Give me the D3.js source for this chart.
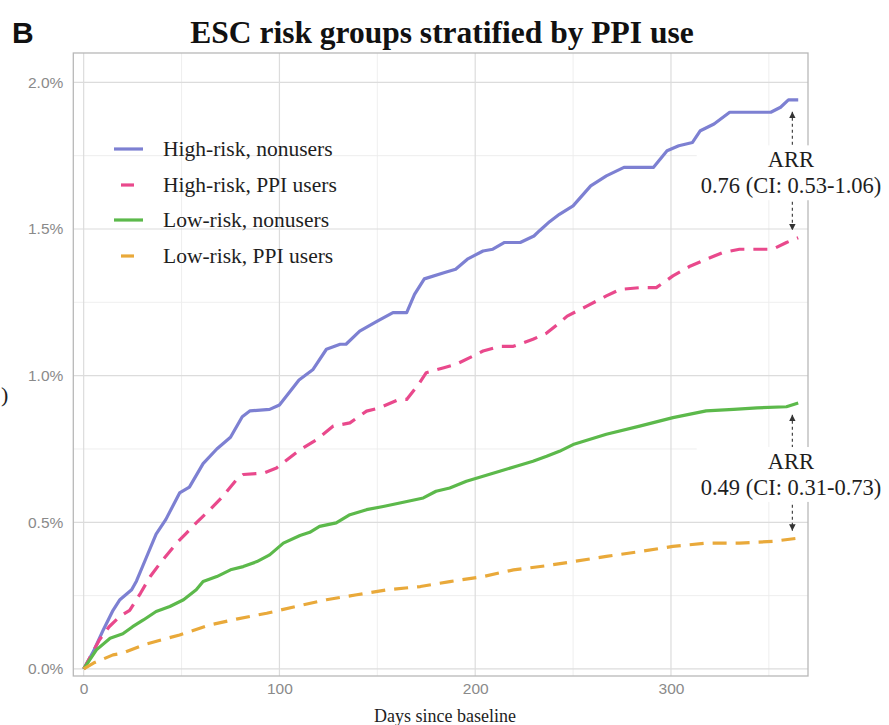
<!DOCTYPE html>
<html>
<head>
<meta charset="utf-8">
<script src="https://cdn.jsdelivr.net/npm/d3@7"></script>
<style>
  html, body { margin: 0; padding: 0; background: #fff; }
  svg { display: block; }
</style>
</head>
<body>
<svg id="chart" width="889" height="725"></svg>
<script>
// Cumulative incidence (%) by days since baseline, four ESC risk / PPI groups
const seriesNames = ["High-risk, nonusers", "High-risk, PPI users", "Low-risk, nonusers", "Low-risk, PPI users"];

const highNonusers = [
  [0,0],[5,0.06],[10,0.133],[15,0.20],[18.5,0.236],[24.5,0.27],[27,0.30],[32,0.38],[37,0.46],[42,0.51],
  [49,0.60],[54,0.62],[61,0.70],[68,0.75],[75,0.79],[81,0.86],[85,0.88],[95,0.885],[100,0.90],[110,0.985],
  [117,1.02],[124,1.09],[131,1.107],[134,1.107],[141,1.152],[150,1.186],[158,1.215],[165,1.215],[169,1.277],
  [174,1.33],[184,1.351],[190,1.363],[196,1.397],[204,1.425],[209,1.431],[215,1.454],[223,1.454],[230,1.476],
  [233,1.495],[238,1.525],[243,1.55],[250,1.579],[259,1.647],[267,1.681],[276,1.71],[291,1.71],[298,1.767],
  [304,1.784],[311,1.795],[315,1.835],[322,1.858],[330,1.898],[351,1.898],[356,1.915],[360,1.94],[365,1.94]
];
const highPPI = [
  [0,0],[8,0.099],[13,0.144],[18.5,0.179],[23.5,0.20],[29,0.258],[34,0.315],[39,0.36],[47.5,0.429],[52.5,0.463],
  [57.5,0.498],[64.5,0.543],[71,0.588],[78,0.645],[81.5,0.663],[92,0.668],[98.5,0.685],[110,0.745],[119,0.782],
  [127.5,0.828],[136,0.839],[144.5,0.879],[151,0.89],[161,0.919],[165,0.919],[171,0.97],[175,1.01],[184,1.027],
  [190,1.038],[199,1.067],[204,1.084],[212.5,1.10],[219.5,1.10],[229.5,1.124],[236.5,1.145],[243,1.18],
  [247,1.203],[257,1.237],[267,1.272],[274,1.294],[284,1.30],[292.5,1.30],[301,1.34],[310,1.374],[318,1.397],
  [326.5,1.42],[335,1.431],[352,1.431],[359,1.454],[365,1.47]
];
const lowNonusers = [
  [0,0],[6.5,0.065],[13.5,0.105],[20,0.12],[25,0.144],[30.5,0.167],[37,0.196],[44,0.213],[51,0.236],[57.5,0.27],
  [61,0.298],[68,0.315],[75,0.338],[81.5,0.349],[88.5,0.366],[95,0.389],[102,0.429],[110.5,0.455],[115.5,0.466],
  [120.5,0.486],[129,0.498],[136,0.526],[144.5,0.543],[153,0.554],[161.5,0.566],[173.5,0.583],[180,0.606],
  [187,0.617],[195.5,0.64],[204,0.657],[212.5,0.674],[221,0.691],[229.5,0.708],[236.5,0.725],[243,0.742],
  [250,0.765],[267,0.80],[284,0.828],[301,0.857],[318,0.88],[332,0.885],[344,0.89],[359,0.894],[365,0.907]
];
const lowPPI = [
  [0,0],[5,0.02],[15,0.048],[20,0.054],[30.5,0.082],[49,0.116],[64.5,0.15],[78,0.17],[93.5,0.19],[110.5,0.216],
  [124,0.236],[139.5,0.253],[155,0.27],[172,0.281],[187,0.298],[204,0.315],[219.5,0.338],[236.5,0.352],
  [250,0.366],[267,0.384],[284,0.40],[301,0.418],[318,0.429],[335,0.429],[352,0.435],[365,0.446]
];

const xMajorTicks = [0, 100, 200, 300];
const xMinorTicks = [50, 150, 250, 350];
const yMajorTicks = [0, 0.5, 1.0, 1.5, 2.0];
const yMinorTicks = [0.25, 0.75, 1.25, 1.75];
const arrLabels = ["0.76 (CI: 0.53-1.06)", "0.49 (CI: 0.31-0.73)"];
const arrDay = 362;

const colors = ["#7d80d2", "#e9498c", "#5cb94b", "#e9a93a"];
const dashes = [null, "14,9", null, "14,9"];
const seriesData = [highNonusers, highPPI, lowNonusers, lowPPI];

const svg = d3.select("#chart");
const panel = { left: 73.3, right: 808, top: 53, bottom: 676 };

const x = d3.scaleLinear().domain([-5.3, 370]).range([panel.left, panel.right]);
const y = d3.scaleLinear().domain([-0.024, 2.10]).range([panel.bottom, panel.top]);

// Panel background
svg.append("rect")
  .attr("x", panel.left).attr("y", panel.top)
  .attr("width", panel.right - panel.left).attr("height", panel.bottom - panel.top)
  .attr("fill", "#fff");

// Grid
const grid = svg.append("g");
grid.selectAll(".xminor").data(xMinorTicks).join("line")
  .attr("x1", d => x(d)).attr("x2", d => x(d))
  .attr("y1", panel.top).attr("y2", panel.bottom)
  .attr("stroke", "#ececec").attr("stroke-width", 0.9);
grid.selectAll(".yminor").data(yMinorTicks).join("line")
  .attr("y1", d => y(d)).attr("y2", d => y(d))
  .attr("x1", panel.left).attr("x2", panel.right)
  .attr("stroke", "#ececec").attr("stroke-width", 0.9);
grid.selectAll(".xmajor").data(xMajorTicks).join("line")
  .attr("x1", d => x(d)).attr("x2", d => x(d))
  .attr("y1", panel.top).attr("y2", panel.bottom)
  .attr("stroke", "#dcdcdc").attr("stroke-width", 1.2);
grid.selectAll(".ymajor").data(yMajorTicks).join("line")
  .attr("y1", d => y(d)).attr("y2", d => y(d))
  .attr("x1", panel.left).attr("x2", panel.right)
  .attr("stroke", "#dcdcdc").attr("stroke-width", 1.2);

// Curves
const line = d3.line().x(d => x(d[0])).y(d => y(d[1]));
svg.append("g").selectAll("path").data(seriesData).join("path")
  .attr("d", d => line(d))
  .attr("fill", "none")
  .attr("stroke", (d, i) => colors[i])
  .attr("stroke-width", 3.2)
  .attr("stroke-linejoin", "round")
  .attr("stroke-dasharray", (d, i) => dashes[i]);

// Panel border
svg.append("rect")
  .attr("x", panel.left).attr("y", panel.top)
  .attr("width", panel.right - panel.left).attr("height", panel.bottom - panel.top)
  .attr("fill", "none").attr("stroke", "#b8b8b8").attr("stroke-width", 1.3);

// Axes (labels only)
const axisFont = "'Liberation Sans', Arial, sans-serif";
const yAxis = svg.append("g")
  .attr("transform", `translate(${panel.left - 7},0)`)
  .call(d3.axisLeft(y).tickValues(yMajorTicks).tickSize(0).tickFormat(d => d.toFixed(1) + "%"));
yAxis.select(".domain").remove();
yAxis.selectAll("text").attr("font-family", axisFont).attr("font-size", 15.5).attr("fill", "#8a8a8a");

const xAxis = svg.append("g")
  .attr("transform", `translate(0,${panel.bottom + 4})`)
  .call(d3.axisBottom(x).tickValues(xMajorTicks).tickSize(0).tickFormat(d3.format("d")));
xAxis.select(".domain").remove();
xAxis.selectAll("text").attr("font-family", axisFont).attr("font-size", 15.5).attr("fill", "#8a8a8a");

// Difference arrows with ARR labels
const serif = "'Liberation Serif', 'Times New Roman', serif";
const defs = svg.append("defs");
["arrEnd", "arrStart"].forEach((id, k) => {
  defs.append("marker")
    .attr("id", id).attr("viewBox", "0 0 10 10")
    .attr("refX", 10).attr("refY", 5)
    .attr("markerWidth", 6).attr("markerHeight", 6)
    .attr("orient", k === 0 ? "auto" : "auto-start-reverse")
    .append("path").attr("d", "M0,0 L10,5 L0,10 Z").attr("fill", "#333");
});

const pairs = [[highNonusers, highPPI], [lowNonusers, lowPPI]];
pairs.forEach((pair, i) => {
  const topEnd = pair[0][pair[0].length - 1][1];
  const botEnd = pair[1][pair[1].length - 1][1];
  const ax = x(arrDay);
  svg.append("line")
    .attr("x1", ax).attr("x2", ax)
    .attr("y1", y(topEnd - 0.04)).attr("y2", y(botEnd + 0.025))
    .attr("stroke", "#333").attr("stroke-width", 1.1)
    .attr("stroke-dasharray", "3,3")
    .attr("marker-start", "url(#arrStart)")
    .attr("marker-end", "url(#arrEnd)");

  const cy = y((topEnd + botEnd) / 2) + 3;
  const g = svg.append("g");
  const t = g.append("text")
    .attr("x", 791).attr("y", cy)
    .attr("text-anchor", "middle")
    .attr("font-family", serif).attr("font-size", 22.5).attr("fill", "#1e1e1e");
  t.append("tspan").attr("x", 791).attr("dy", "-0.2em").text("ARR");
  t.append("tspan").attr("x", 791).attr("dy", "1.15em").text(arrLabels[i]);
  const bb = t.node().getBBox();
  g.insert("rect", "text")
    .attr("x", bb.x - 4).attr("y", bb.y - 2)
    .attr("width", bb.width + 8).attr("height", bb.height + 4)
    .attr("fill", "#fff");
});

// Legend
const legend = svg.append("g");
const legendY = [149, 185, 220, 256];
seriesNames.forEach((name, i) => {
  const ly = legendY[i];
  if (dashes[i]) {
    legend.append("line").attr("x1", 121).attr("x2", 134).attr("y1", ly).attr("y2", ly)
      .attr("stroke", colors[i]).attr("stroke-width", 3.2);
  } else {
    legend.append("line").attr("x1", 114).attr("x2", 143).attr("y1", ly).attr("y2", ly)
      .attr("stroke", colors[i]).attr("stroke-width", 3.2);
  }
  legend.append("text")
    .attr("x", 163).attr("y", ly + 6.5)
    .attr("font-family", serif).attr("font-size", 21.5).attr("fill", "#1e1e1e")
    .text(name);
});

// Titles
svg.append("text")
  .attr("x", 442).attr("y", 43)
  .attr("text-anchor", "middle")
  .attr("font-family", serif).attr("font-weight", "bold").attr("font-size", 31.5)
  .attr("fill", "#111")
  .text("ESC risk groups stratified by PPI use");

svg.append("text")
  .attr("x", 12).attr("y", 43)
  .attr("font-family", "'Liberation Sans', Arial, sans-serif").attr("font-weight", "bold")
  .attr("font-size", 30).attr("fill", "#111")
  .text("B");

svg.append("text")
  .attr("x", 445).attr("y", 722)
  .attr("text-anchor", "middle")
  .attr("font-family", serif).attr("font-size", 18).attr("fill", "#1e1e1e")
  .text("Days since baseline");

// End of the y-axis caption at the left edge
svg.append("text")
  .attr("x", 1).attr("y", 402)
  .attr("font-family", serif).attr("font-size", 22).attr("fill", "#1e1e1e")
  .text(")");
</script>
</body>
</html>
